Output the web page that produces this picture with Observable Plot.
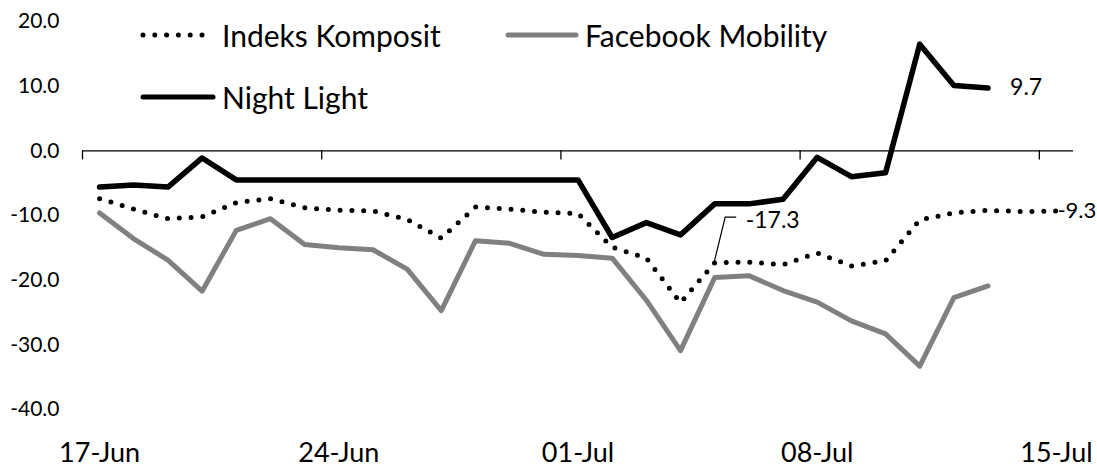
<!DOCTYPE html>
<html><head><meta charset="utf-8">
<script src="https://cdn.jsdelivr.net/npm/d3@7"></script>
<script src="https://cdn.jsdelivr.net/npm/@observablehq/plot@0.6"></script>
<style>
body{margin:0;background:#fff;}
#wrap{position:relative;width:1097px;height:467px;font-family:Lato,sans-serif;color:#000;}
.sw{position:absolute;overflow:visible;}
.lt{position:absolute;font-size:30px;line-height:34px;height:34px;white-space:nowrap;}
</style></head><body><div id="wrap"></div>
<script>
const dates = ["2020-06-17","2020-06-18","2020-06-19","2020-06-20","2020-06-21","2020-06-22","2020-06-23",
  "2020-06-24","2020-06-25","2020-06-26","2020-06-27","2020-06-28","2020-06-29","2020-06-30",
  "2020-07-01","2020-07-02","2020-07-03","2020-07-04","2020-07-05","2020-07-06","2020-07-07",
  "2020-07-08","2020-07-09","2020-07-10","2020-07-11","2020-07-12","2020-07-13","2020-07-14","2020-07-15"];
const indeksKomposit = [-7.4,-9.0,-10.5,-10.2,-8.0,-7.4,-8.8,-9.2,-9.3,-10.6,-13.5,-8.7,-9.0,-9.5,-9.7,
  -14.9,-16.6,-23.5,-17.3,-17.2,-17.6,-15.8,-17.8,-17.0,-10.7,-9.6,-9.2,-9.4,-9.3];
const facebookMobility = [-9.6,-13.6,-16.9,-21.7,-12.3,-10.5,-14.5,-15.0,-15.3,-18.3,-24.7,-13.9,-14.3,-16.0,-16.2,
  -16.6,-23.1,-30.9,-19.6,-19.3,-21.6,-23.4,-26.3,-28.3,-33.3,-22.7,-20.9];
const nightLight = [-5.6,-5.3,-5.6,-1.1,-4.5,-4.5,-4.5,-4.5,-4.5,-4.5,-4.5,-4.5,-4.5,-4.5,-4.5,
  -13.4,-11.1,-13.0,-8.2,-8.2,-7.5,-1.0,-4.0,-3.4,16.5,10.1,9.7];
const seriesNames = ["Indeks Komposit","Facebook Mobility","Night Light"];
const yTicks = [-40,-30,-20,-10,0,10,20];
const xTickDates = ["2020-06-17","2020-06-24","2020-07-01","2020-07-08","2020-07-15"];
const xDomain = ["2020-06-17","2020-07-16"];
const labelledIK = "2020-07-05";

const day0 = s => new Date(s + "T00:00:00Z");
const mid = s => new Date(s + "T12:00:00Z");
const rows = (vals, name) => vals.map((v, i) => ({date: mid(dates[i]), value: v, series: name}));
const ik = rows(indeksKomposit, seriesNames[0]);
const fb = rows(facebookMobility, seriesNames[1]);
const nl = rows(nightLight, seriesNames[2]);
const ikLab = ik.find(d => +d.date === +mid(labelledIK));
const fmt = v => v.toFixed(1);

const chart = Plot.plot({
  width: 1097, height: 467,
  marginLeft: 82, marginRight: 24, marginTop: 21, marginBottom: 58,
  style: {fontFamily: "Lato, sans-serif", background: "#fff", color: "#000", overflow: "visible"},
  x: {type: "utc", domain: xDomain.map(day0)},
  y: {domain: [-40, 20]},
  marks: [
    Plot.axisY({ticks: yTicks, tickSize: 0, tickPadding: 23, tickFormat: fmt, fontSize: 21, label: null}),
    Plot.axisX({ticks: xTickDates.map(mid), tickSize: 0, tickPadding: 33, tickFormat: d3.utcFormat("%d-%b"), fontSize: 27, label: null}),
    Plot.ruleY([0], {stroke: "#000", strokeWidth: 1.3}),
    Plot.ruleX(xTickDates.map(day0), {x: d => d, y1: 0, y2: -1.4, stroke: "#000", strokeWidth: 1.3}),
    Plot.line(fb, {x: "date", y: "value", stroke: "#808080", strokeWidth: 5}),
    Plot.line(ik, {x: "date", y: "value", stroke: "#000", strokeWidth: 5, strokeDasharray: "0 11.8", strokeLinecap: "round"}),
    Plot.line(nl, {x: "date", y: "value", stroke: "#000", strokeWidth: 5.5}),
    Plot.text([nl[nl.length - 1]], {x: "date", y: "value", text: d => fmt(d.value), textAnchor: "start", dx: 22, fontSize: 23}),
    Plot.text([ik[ik.length - 1]], {x: "date", y: "value", text: d => fmt(d.value), textAnchor: "start", dx: 1, fontSize: 22}),
    Plot.text([ikLab], {x: "date", y: "value", text: d => fmt(d.value), textAnchor: "start", dx: 31, dy: -42, fontSize: 23})
  ]
});

// leader line for the annotated point, positioned from the scales
const sx = chart.scale("x"), sy = chart.scale("y");
const px = sx.apply(ikLab.date), py = sy.apply(ikLab.value);
d3.select(chart).append("path")
  .attr("d", `M${px},${py}L${px + 11},${py - 45}L${px + 22},${py - 45}`)
  .attr("fill", "none").attr("stroke", "#000").attr("stroke-width", 1.2);

const wrap = document.getElementById("wrap");
wrap.appendChild(chart);

// legend (inside plot area, as in the reference)
const legend = [
  {name: seriesNames[0], x1: 143, x2: 210, tx: 222, cy: 35, stroke: "#000", dash: "0 11.8"},
  {name: seriesNames[1], x1: 508, x2: 576, tx: 585, cy: 35, stroke: "#808080", dash: null},
  {name: seriesNames[2], x1: 143, x2: 213, tx: 222, cy: 97, stroke: "#000", dash: null}
];
for (const l of legend) {
  const ns = "http://www.w3.org/2000/svg";
  const s = document.createElementNS(ns, "svg");
  s.setAttribute("class", "sw");
  s.setAttribute("width", l.x2 - l.x1 + 10);
  s.setAttribute("height", 12);
  s.style.left = (l.x1 - 5) + "px";
  s.style.top = (l.cy - 6) + "px";
  const ln = document.createElementNS(ns, "line");
  ln.setAttribute("x1", 5); ln.setAttribute("x2", l.x2 - l.x1 + 5);
  ln.setAttribute("y1", 6); ln.setAttribute("y2", 6);
  ln.setAttribute("stroke", l.stroke);
  ln.setAttribute("stroke-width", 5);
  ln.setAttribute("stroke-linecap", "round");
  if (l.dash) ln.setAttribute("stroke-dasharray", l.dash);
  s.appendChild(ln);
  wrap.appendChild(s);
  const t = document.createElement("div");
  t.className = "lt";
  t.textContent = l.name;
  t.style.left = l.tx + "px";
  t.style.top = (l.cy - 17) + "px";
  wrap.appendChild(t);
}
</script></body></html>
